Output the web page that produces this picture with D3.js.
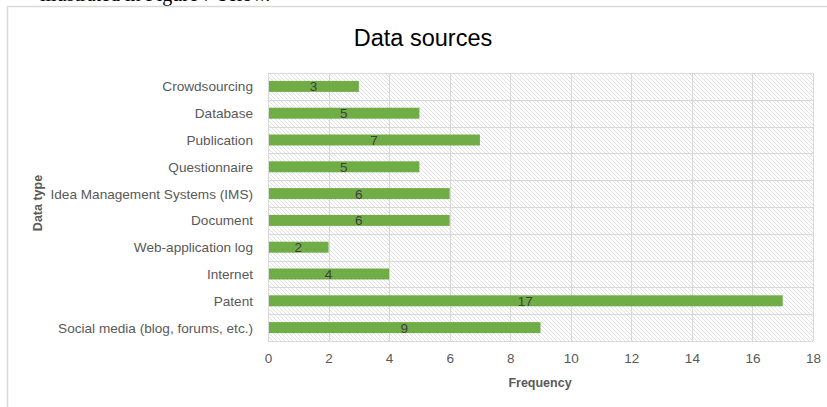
<!DOCTYPE html>
<html>
<head>
<meta charset="utf-8">
<script src="https://cdn.jsdelivr.net/npm/d3@7"></script>
<style>
  body { margin: 0; background: #fff; }
  svg { display: block; font-family: "Liberation Sans", Arial, sans-serif; }
</style>
</head>
<body>
<div id="chart"></div>
<script>
// data, top to bottom as shown
var categories = ["Crowdsourcing", "Database", "Publication", "Questionnaire",
  "Idea Management Systems (IMS)", "Document", "Web-application log", "Internet",
  "Patent", "Social media (blog, forums, etc.)"];
var frequency = [3, 5, 7, 5, 6, 6, 2, 4, 17, 9];
var xTicks = [0, 2, 4, 6, 8, 10, 12, 14, 16, 18];

var W = 827, H = 407;
var margin = {left: 268, right: 14, top: 73, bottom: 66};

var svg = d3.select("#chart").append("svg")
  .attr("width", W).attr("height", H);

// hatch fill for plot area
var defs = svg.append("defs");
var pat = defs.append("pattern")
  .attr("id", "hatch")
  .attr("patternUnits", "userSpaceOnUse")
  .attr("width", 4).attr("height", 4);
pat.append("rect").attr("width", 4).attr("height", 4).attr("fill", "#fff");
pat.append("path")
  .attr("d", "M-1,-1 L5,5 M-1,3 L1,5 M3,-1 L5,1")
  .attr("stroke", "#dedede").attr("stroke-width", 0.9);

// text cut at the top of the page
svg.append("text")
  .attr("x", 40).attr("y", 0.5)
  .style("font-family", "'Liberation Serif', serif")
  .style("font-size", "20px")
  .attr("fill", "#000")
  .text("illustrated in Figure 7 below.");

// chart frame
svg.append("rect")
  .attr("x", 7.5).attr("y", 6.5)
  .attr("width", W + 10).attr("height", H + 10)
  .attr("fill", "none").attr("stroke", "#d9d9d9").attr("stroke-width", 1.5);

var x = d3.scaleLinear().domain([0, 18]).range([margin.left, W - margin.right]);
var y = d3.scaleBand().domain(categories)
  .range([margin.top, H - margin.bottom]).paddingInner(0.59).paddingOuter(0.295);
var yb = d3.scaleBand().domain(categories).range([margin.top, H - margin.bottom]);

svg.append("rect")
  .attr("x", x(0)).attr("y", margin.top)
  .attr("width", x(18) - x(0)).attr("height", H - margin.bottom - margin.top)
  .attr("fill", "url(#hatch)");

var grid = svg.append("g").attr("stroke", "#d9d9d9").attr("stroke-width", 1);
grid.selectAll(".vx").data(xTicks).enter().append("line")
  .attr("x1", d => Math.round(x(d)) + 0.5).attr("x2", d => Math.round(x(d)) + 0.5)
  .attr("y1", margin.top).attr("y2", H - margin.bottom);
var hb = categories.map(c => yb(c)).concat([H - margin.bottom]);
grid.selectAll(".hy").data(hb).enter().append("line")
  .attr("x1", x(0)).attr("x2", x(18))
  .attr("y1", d => Math.round(d) + 0.5).attr("y2", d => Math.round(d) + 0.5);

// bars
svg.selectAll(".bar").data(categories).enter().append("rect")
  .attr("x", x(0) + 1)
  .attr("y", d => y(d))
  .attr("width", (d, i) => x(frequency[i]) - x(0) - 1)
  .attr("height", y.bandwidth())
  .attr("fill", "#70ad47");

// value labels in the middle of each bar
svg.selectAll(".val").data(categories).enter().append("text")
  .attr("x", (d, i) => (x(0) + x(frequency[i])) / 2)
  .attr("y", d => y(d) + y.bandwidth() / 2 + 5)
  .attr("text-anchor", "middle")
  .attr("fill", "#404040")
  .style("font-size", "13.5px")
  .text((d, i) => frequency[i]);

// category labels
svg.selectAll(".cat").data(categories).enter().append("text")
  .attr("x", 253)
  .attr("y", d => yb(d) + yb.bandwidth() / 2 + 5)
  .attr("text-anchor", "end")
  .attr("fill", "#595959")
  .style("font-size", "13.6px")
  .text(d => d);

// x tick labels
var xAxis = d3.axisBottom(x).tickValues(xTicks).tickSize(0).tickPadding(12);
var gx = svg.append("g").attr("transform", "translate(0," + (H - margin.bottom) + ")").call(xAxis);
gx.select(".domain").remove();
gx.selectAll("text").attr("fill", "#595959").style("font-size", "13.5px")
  .style("font-family", "'Liberation Sans', Arial, sans-serif");

// titles
svg.append("text")
  .attr("x", 423).attr("y", 46)
  .attr("text-anchor", "middle")
  .attr("fill", "#000")
  .style("font-size", "23.5px")
  .text("Data sources");

svg.append("text")
  .attr("x", 540).attr("y", 387)
  .attr("text-anchor", "middle")
  .attr("fill", "#595959")
  .style("font-size", "12.5px").style("font-weight", "bold")
  .text("Frequency");

svg.append("text")
  .attr("transform", "translate(42,203) rotate(-90)")
  .attr("text-anchor", "middle")
  .attr("fill", "#595959")
  .style("font-size", "12.5px").style("font-weight", "bold")
  .text("Data type");
</script>
</body>
</html>
